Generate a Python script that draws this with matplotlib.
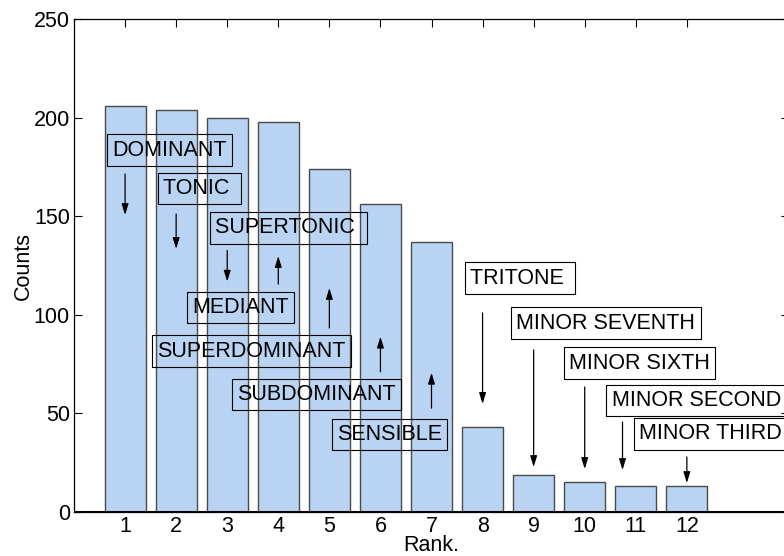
import matplotlib
matplotlib.use("Agg")
import matplotlib.pyplot as plt

plt.rcParams['font.family'] = ['Liberation Sans', 'DejaVu Sans']

# Interval occurrence counts by rank
ranks = list(range(1, 13))
counts = [206, 204, 200, 198, 174, 156, 137, 43, 19, 15, 13, 13]
names = ["DOMINANT", "TONIC ", "SUPERTONIC ", "MEDIANT", "SUPERDOMINANT",
         "SUBDOMINANT", "SENSIBLE", "TRITONE ", "MINOR SEVENTH",
         "MINOR SIXTH", "MINOR SECOND", "MINOR THIRD"]
yticks = [0, 50, 100, 150, 200, 250]

# label placement: text anchor (left, middle) and arrow (x, tail y, tip y)
label_xy = [(0.75, 183.4), (1.75, 164.0), (2.77, 144.1), (2.31, 103.7),
            (1.63, 81.5), (3.20, 59.6), (5.15, 39.3), (7.76, 118.5),
            (8.66, 95.8), (9.69, 75.4), (10.53, 56.6), (11.07, 39.6)]
arrow_xy = [(1, 171.4, 150.6), (2, 151.1, 133.4), (3, 132.6, 116.8),
            (4, 115.6, 129.8), (5, 93.3, 113.6), (6, 71.1, 88.9),
            (7, 52.7, 70.6), (8, 100.9, 54.8), (9, 82.2, 22.8),
            (10, 63.4, 21.8), (10.74, 45.6, 21.3), (12, 27.9, 14.7)]

fig = plt.figure(figsize=(7.84, 5.56), dpi=100)
ax = fig.add_axes([74 / 784, 44 / 556, 715 / 784, 493 / 556])

ax.bar(ranks, counts, width=0.8, color="#b9d4f2", edgecolor="#4a4a4a",
       linewidth=1.0, zorder=2)
ax.axhline(0, color="black", lw=2.2, zorder=3)

ax.set_xlim(0, 14)
ax.set_ylim(0, 250)
ax.set_xticks(ranks)
ax.set_yticks(yticks)
ax.tick_params(direction="in", length=6, width=0.8, labelsize=15.5,
               top=True, right=True)
ax.tick_params(axis="y", pad=3)
ax.tick_params(axis="x", pad=3)
for s in ax.spines.values():
    s.set_linewidth(0.9)

ax.set_xlabel("Rank.", fontsize=15.5, labelpad=-1.5)
ax.set_ylabel("Counts", fontsize=15.5, labelpad=0)

for name, (tx, ty) in zip(names, label_xy):
    ax.text(tx, ty, name, fontsize=15.5, ha="left", va="center", zorder=5,
            bbox=dict(boxstyle="square,pad=0.25", fc="none", ec="black",
                      lw=0.8))

for (axx, y0, y1) in arrow_xy:
    ax.annotate("", xy=(axx, y1), xytext=(axx, y0), zorder=5,
                arrowprops=dict(arrowstyle="-|>,head_length=0.55,head_width=0.17",
                                color="black", lw=0.9, mutation_scale=12,
                                shrinkA=0, shrinkB=0))

fig.savefig("out.png", dpi=100)
